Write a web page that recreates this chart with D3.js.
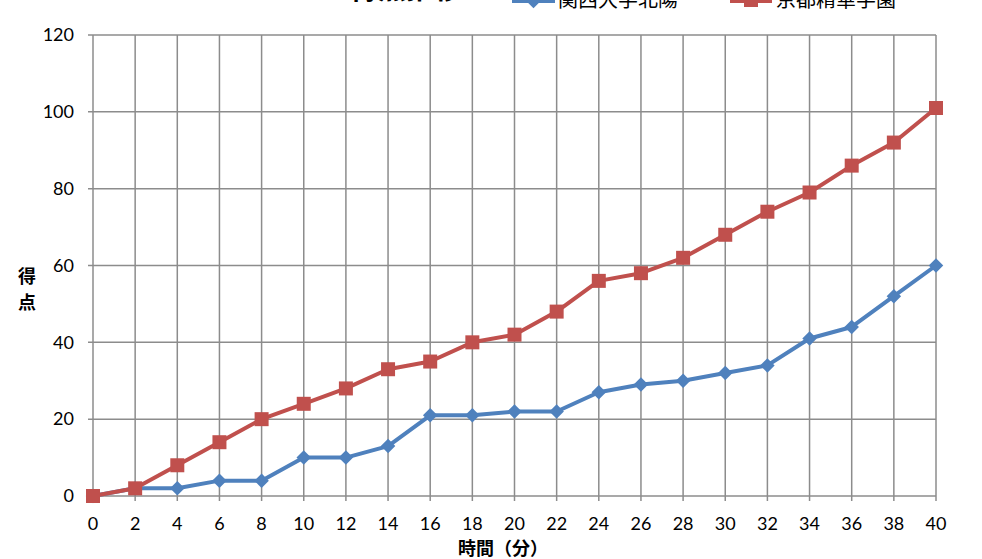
<!DOCTYPE html>
<html>
<head>
<meta charset="utf-8">
<script src="https://cdn.jsdelivr.net/npm/d3@7"></script>
<style>
  html, body { margin: 0; padding: 0; background: #fff; }
  svg { display: block; }
  text { font-family: Lato, "Liberation Sans", sans-serif; }
  .cjk { font-family: "Noto Sans CJK JP", sans-serif; }
</style>
</head>
<body>
<script>
// Game progress: elapsed minutes vs cumulative score
const minutes = [0,2,4,6,8,10,12,14,16,18,20,22,24,26,28,30,32,34,36,38,40];
const hokuyo = [0,2,2,4,4,10,10,13,21,21,22,22,27,29,30,32,34,41,44,52,60];
const seika  = [0,2,8,14,20,24,28,33,35,40,42,48,56,58,62,68,74,79,86,92,101];
const yTicks = [0,20,40,60,80,100,120];
const seriesNames = ["関西大学北陽", "京都精華学園"];
const seriesColors = ["#4F81BD", "#C0504D"];
const chartTitle = "得点推移";

const W = 982, H = 559;
const plot = { left: 93, right: 936, top: 35, bottom: 496 };

const svg = d3.select("body").append("svg").attr("width", W).attr("height", H);

const x = d3.scaleLinear().domain([0, 40]).range([plot.left, plot.right]);
const y = d3.scaleLinear().domain([0, 120]).range([plot.bottom, plot.top]);

const gridColor = "#8c8c8c";

// vertical gridlines at every x tick
svg.append("g").selectAll("line").data(minutes).join("line")
  .attr("x1", d => x(d)).attr("x2", d => x(d))
  .attr("y1", plot.top).attr("y2", plot.bottom)
  .attr("stroke", gridColor).attr("stroke-width", 1.5);

// horizontal gridlines
svg.append("g").selectAll("line").data(yTicks).join("line")
  .attr("x1", plot.left - 5).attr("x2", plot.right)
  .attr("y1", d => y(d)).attr("y2", d => y(d))
  .attr("stroke", gridColor).attr("stroke-width", 1.5);

// x ticks below axis
svg.append("g").selectAll("line").data(minutes).join("line")
  .attr("x1", d => x(d)).attr("x2", d => x(d))
  .attr("y1", plot.bottom).attr("y2", plot.bottom + 5)
  .attr("stroke", gridColor).attr("stroke-width", 1.5);

// axis tick labels
svg.append("g").selectAll("text").data(yTicks).join("text")
  .attr("x", 74).attr("y", d => y(d)).attr("dy", "0.35em")
  .attr("text-anchor", "end").attr("font-size", 18).attr("fill", "#000")
  .text(d => d);

svg.append("g").selectAll("text").data(minutes).join("text")
  .attr("x", d => x(d)).attr("y", 530)
  .attr("text-anchor", "middle").attr("font-size", 18).attr("fill", "#000")
  .text(d => d);

// axis titles
svg.append("text").attr("class", "cjk")
  .attr("x", 503).attr("y", 555).attr("text-anchor", "middle")
  .attr("font-size", 18).attr("font-weight", "bold").text("時間（分）");

const yTitle = svg.append("text").attr("class", "cjk")
  .attr("text-anchor", "middle").attr("font-size", 18).attr("font-weight", "bold");
["得", "点"].forEach((ch, i) => {
  yTitle.append("tspan").attr("x", 27).attr("y", 283 + i * 26).text(ch);
});

// series lines and markers
const line = d3.line().x((d, i) => x(minutes[i])).y(d => y(d));
const series = [hokuyo, seika];

series.forEach((vals, si) => {
  svg.append("path").datum(vals)
    .attr("d", line).attr("fill", "none")
    .attr("stroke", seriesColors[si]).attr("stroke-width", 4)
    .attr("stroke-linejoin", "round");
});

const diamondPath = d3.symbol().type(d3.symbolSquare).size(105);
svg.append("g").selectAll("path").data(hokuyo).join("path")
  .attr("d", diamondPath)
  .attr("transform", (d, i) => `translate(${x(minutes[i])},${y(d)}) rotate(45)`)
  .attr("fill", seriesColors[0]);

svg.append("g").selectAll("rect").data(seika).join("rect")
  .attr("x", (d, i) => x(minutes[i]) - 7).attr("y", d => y(d) - 7)
  .attr("width", 14).attr("height", 14)
  .attr("fill", seriesColors[1]);

// title and legend along the top edge
svg.append("text").attr("class", "cjk")
  .attr("x", 406).attr("y", -1).attr("text-anchor", "middle")
  .attr("font-size", 28).attr("font-weight", "bold").text(chartTitle);

const legendItems = [
  { x0: 512, x1: 555, tx: 558 },
  { x0: 730, x1: 772, tx: 776 }
];
legendItems.forEach((it, i) => {
  const g = svg.append("g");
  g.append("line").attr("x1", it.x0).attr("x2", it.x1).attr("y1", 1).attr("y2", 1)
    .attr("stroke", seriesColors[i]).attr("stroke-width", 4);
  const cx = (it.x0 + it.x1) / 2;
  if (i === 0) {
    g.append("path").attr("d", diamondPath)
      .attr("transform", `translate(${cx},1) rotate(45)`).attr("fill", seriesColors[i]);
  } else {
    g.append("rect").attr("x", cx - 7).attr("y", -7).attr("width", 14).attr("height", 14)
      .attr("fill", seriesColors[i]);
  }
  g.append("text").attr("class", "cjk").attr("x", it.tx).attr("y", 7)
    .attr("font-size", 20).attr("fill", "#000").text(seriesNames[i]);
});
</script>
</body>
</html>
